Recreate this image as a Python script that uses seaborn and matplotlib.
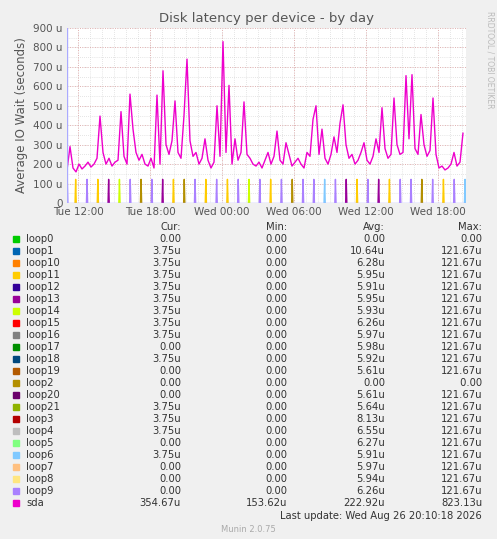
import matplotlib
matplotlib.use("Agg")
import matplotlib.pyplot as plt
import seaborn as sns
import numpy as np
import pandas as pd

# ---- data ----
start_hour = 11.08  # Tue 11:05 expressed in hours since Tue 00:00
step_h = 0.25
sda_values = [
 170,290,180,160,200,175,190,210,185,200,230,447,260,200,230,190,210,220,470,240,
 200,560,380,260,220,250,200,190,230,180,555,200,680,300,250,320,525,260,230,450,
 740,320,240,260,200,230,330,220,180,210,500,240,830,260,605,200,330,220,260,520,
 250,230,200,190,210,180,220,260,200,240,370,220,200,310,250,190,210,230,200,180,
 260,240,430,500,250,380,230,200,250,340,260,410,505,300,230,250,200,220,260,310,
 220,200,240,330,260,490,280,230,250,540,300,250,260,655,330,660,280,250,455,300,
 240,270,540,250,180,190,170,180,200,260,190,210,360]
sda_hours = [start_hour + i * step_h for i in range(len(sda_values))]

loop_names = ["loop0","loop1","loop10","loop11","loop12","loop13","loop14","loop15",
              "loop16","loop17","loop18","loop19","loop2","loop20","loop21","loop3",
              "loop4","loop5","loop6","loop7","loop8","loop9","sda"]
colors = ["#00cc00","#0066b3","#ff8000","#ffcc00","#330099","#990099","#ccff00","#ff0000",
          "#808080","#008f00","#00487d","#b35a00","#b38f00","#6b006b","#8fb300","#b30000",
          "#bebebe","#80ff80","#80c9ff","#ffc080","#ffe680","#aa80ff","#ee00cc"]
cur = ["0.00","3.75u","3.75u","3.75u","3.75u","3.75u","3.75u","3.75u","3.75u","0.00","3.75u",
       "0.00","0.00","0.00","3.75u","3.75u","3.75u","0.00","3.75u","0.00","0.00","0.00","354.67u"]
mins = ["0.00"]*22 + ["153.62u"]
avgs = ["0.00","10.64u","6.28u","5.95u","5.91u","5.95u","5.93u","6.26u","5.97u","5.98u","5.92u",
        "5.61u","0.00","5.61u","5.64u","8.13u","6.55u","6.27u","5.91u","5.97u","5.94u","6.26u","222.92u"]
maxs = ["0.00"] + ["121.67u"]*11 + [" 0.00"] + ["121.67u"]*9 + ["823.13u"]
loop_spike_value = 121.67
loop_spike_hours = [11.1,11.8,12.75,13.65,14.55,15.45,16.35,17.25,18.15,19.05,19.95,20.85,21.75,
                    22.65,23.55,24.45,25.35,26.25,27.15,28.05,28.95,29.85,30.75,31.65,32.55,33.45,
                    34.35,35.25,36.15,37.05,37.95,38.85,39.75,40.65,41.55,42.45,43.35,44.25]
loop_spike_dev = ["loop9","loop11","loop9","loop11","loop13","loop14","loop9","loop2","loop9",
                  "loop13","loop11","loop2","loop9","loop11","loop9","loop11","loop9","loop14",
                  "loop9","loop11","loop9","loop2","loop9","loop9","loop6","loop9","loop13",
                  "loop11","loop9","loop13","loop11","loop9","loop9","loop2","loop9","loop11",
                  "loop9","loop6"]
xtick_hours = [12,18,24,30,36,42]
xtick_labels = ["Tue 12:00","Tue 18:00","Wed 00:00","Wed 06:00","Wed 12:00","Wed 18:00"]
yticks = [0,100,200,300,400,500,600,700,800,900]
ytick_labels = ["0"] + [f"{v} u" for v in yticks[1:]]

# ---- figure ----
sns.set_style("white")
plt.rcParams['font.family'] = ['DejaVu Sans']
W, H = 497, 539
fig = plt.figure(figsize=(W/100, H/100), dpi=100, facecolor="#f0f0f0")
x_end = start_hour + 399/12
ax = fig.add_axes([67/W, 1-203/H, 399/W, 175/H])
ax.set_facecolor("white")
ax.set_xlim(start_hour, x_end)
ax.set_ylim(0, 900)
for h in np.arange(12, x_end, 1):
    ax.axvline(h, color="#cccccc", lw=0.5, ls=(0,(1,2)), zorder=0)
for v in range(0, 901, 50):
    ax.axhline(v, color="#cccccc", lw=0.5, ls=(0,(1,2)), zorder=0)
for h in xtick_hours:
    ax.axvline(h, color="#e0a0a0", lw=0.6, ls=(0,(1,2)), zorder=0)
for v in yticks:
    ax.axhline(v, color="#e0a0a0", lw=0.6, ls=(0,(1,2)), zorder=0)

cmap = dict(zip(loop_names, colors))
for h, d in zip(loop_spike_hours, loop_spike_dev):
    ax.plot([h-0.05, h, h+0.05], [0, loop_spike_value, 0], color=cmap[d], lw=1)
df = pd.DataFrame({"t": sda_hours, "v": sda_values})
sns.lineplot(data=df, x="t", y="v", ax=ax, color="#ee00cc", lw=1)
ax.set_xticks(xtick_hours)
ax.set_xticklabels(xtick_labels, fontsize=7.5, color="#555555")
ax.set_yticks(yticks)
ax.set_yticklabels(ytick_labels, fontsize=7.5, color="#555555")
ax.tick_params(length=0, pad=3)
ax.set_xlabel("")
ax.set_ylabel("Average IO Wait (seconds)", fontsize=8.5, color="#555555")
for s in ax.spines.values():
    s.set_visible(False)
ax.axhline(0, color="#aaaaff", lw=1)
ax.axvline(start_hour, color="#aaaaff", lw=1)
ax.set_title("Disk latency per device - by day", fontsize=9.5, color="#555555", pad=4)
fig.text(490/W, 1-60/H, "RRDTOOL / TOBI OETIKER", rotation=270, fontsize=5.5,
         color="#bbbbbb", ha="center", va="center")

def fy(py):
    return 1 - py/H
fs = 7.2
col_x = [181, 287, 385, 482]
for x, t in zip(col_x, ["Cur:", "Min:", "Avg:", "Max:"]):
    fig.text(x/W, fy(227), t, ha="right", va="center", fontsize=fs, color="#333333")
for i, name in enumerate(loop_names):
    y = 239 + i*12.0
    fig.patches.append(matplotlib.patches.Rectangle(((13)/W, fy(y+3)), 6/W, 6/H,
                       transform=fig.transFigure, color=colors[i]))
    fig.text(26/W, fy(y), name, ha="left", va="center", fontsize=fs, color="#333333")
    for x, t in zip(col_x, [cur[i], mins[i], avgs[i], maxs[i]]):
        fig.text(x/W, fy(y), t, ha="right", va="center", fontsize=fs, color="#333333")
fig.text(482/W, fy(516), "Last update: Wed Aug 26 20:10:18 2026", ha="right", va="center",
         fontsize=fs, color="#333333")
fig.text(248/W, fy(530), "Munin 2.0.75", ha="center", va="center", fontsize=6, color="#aaaaaa")
fig.savefig("out.png", dpi=100, facecolor=fig.get_facecolor())
